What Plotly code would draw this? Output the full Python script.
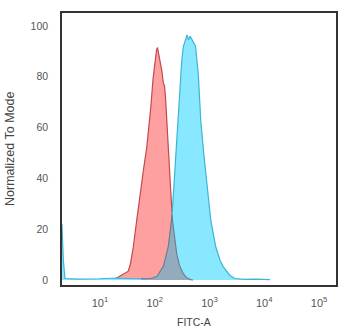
import numpy as np
import plotly.graph_objects as go

# Isotype control (red) : log10(FITC-A) and % of mode
red_log10_fitc = [1.243, 1.311, 1.365, 1.438, 1.517, 1.557, 1.608, 1.670, 1.731, 1.791,
                  1.853, 1.895, 1.932, 1.968, 2.005, 2.032, 2.050, 2.068, 2.096, 2.132,
                  2.156, 2.178, 2.196, 2.218, 2.251, 2.288, 2.324, 2.379, 2.425, 2.479,
                  2.534, 2.589, 2.662]
red_pct_mode = [0, 0.8, 1.5, 2.3, 3.5, 6.5, 13, 23.4, 33.9, 43,
                52, 60, 69, 79, 87, 90.5, 91.5, 89.5, 86.5, 82,
                77.5, 76.5, 72, 62.5, 50, 36.5, 23.4, 13, 7.5, 4.2,
                2.0, 0.8, 0]

# Antibody stained (blue)
blue_log10_fitc = [0.306, 0.33, 0.36, 0.6, 1.0, 1.3, 1.6, 1.800, 1.853, 1.913,
                   1.974, 2.036, 2.127, 2.156, 2.205, 2.247, 2.310, 2.348, 2.379, 2.406,
                   2.434, 2.452, 2.492, 2.521, 2.562, 2.589, 2.616, 2.644, 2.671, 2.704,
                   2.744, 2.795, 2.841, 2.896, 2.963, 3.024, 3.115, 3.192, 3.252, 3.314,
                   3.374, 3.466, 3.648, 3.831, 4.105]
blue_pct_mode = [22, 8, 0.6, 0.4, 0.5, 0.8, 0.5, 0.5, 0.3, 0.5,
                 0.8, 1.3, 4, 5.2, 9, 13, 23.4, 36.5, 49.5, 60,
                 68, 75, 86, 91.8, 94.5, 96.5, 94.5, 96, 95, 93.8,
                 92, 81, 62.5, 49.5, 36.5, 23.4, 13, 7.8, 5.2, 3.5,
                 1.8, 0.6, 0.3, 0.4, 0.2]

x_tick_exponents = [1, 2, 3, 4, 5]
y_tick_values = [0, 20, 40, 60, 80, 100]

red_x = [10 ** v for v in red_log10_fitc]
blue_x = [10 ** v for v in blue_log10_fitc]

# overlap region (min of both histograms)
grid = np.linspace(1.75, 2.7, 400)
ov = np.minimum(np.interp(grid, red_log10_fitc, red_pct_mode),
                np.interp(grid, blue_log10_fitc, blue_pct_mode))
ov_x = 10 ** grid

fig = go.Figure()
fig.add_trace(go.Scatter(x=red_x, y=red_pct_mode, mode="lines", fill="tozeroy",
                         fillcolor="#FFA0A0", line=dict(color="#C4484E", width=1.2),
                         hoverinfo="skip"))
fig.add_trace(go.Scatter(x=blue_x, y=blue_pct_mode, mode="lines", fill="tozeroy",
                         fillcolor="#88E8FF", line=dict(color="#3DB4D4", width=1.2),
                         hoverinfo="skip"))
fig.add_trace(go.Scatter(x=ov_x, y=ov, mode="lines", fill="tozeroy",
                         fillcolor="#93ABBD", line=dict(color="#6D7D8C", width=1.1),
                         hoverinfo="skip"))

fam = "Liberation Sans, Arial, sans-serif"
ytick_font = dict(family=fam, size=10.5, color="#555555")
xtick_font = dict(family=fam, size=11, color="#555555")

fig.update_layout(
    width=350, height=333,
    margin=dict(l=62, r=14, t=11, b=48),
    paper_bgcolor="white", plot_bgcolor="white",
    showlegend=False,
    font=dict(family=fam, size=10, color="#555555"),
    xaxis=dict(type="log", range=[0.306, 5.31],
               tickvals=[10 ** e for e in x_tick_exponents],
               ticktext=["10<sup>%d</sup>" % e for e in x_tick_exponents],
               showgrid=False, zeroline=False,
               showline=True, mirror=True, linecolor="#333333", linewidth=1.5,
               ticks="outside", ticklen=7, tickcolor="rgba(0,0,0,0)",
               tickfont=xtick_font),
    yaxis=dict(range=[-1.95, 105.1], tickvals=y_tick_values,
               showgrid=False, zeroline=False,
               showline=True, mirror=True, linecolor="#333333", linewidth=1.5,
               ticks="outside", ticklen=10, tickcolor="rgba(0,0,0,0)",
               tickfont=ytick_font),
    annotations=[
        dict(text="Normalized To Mode", xref="paper", yref="paper",
             x=(10 - 62) / 274, y=0.5, textangle=-90, showarrow=False,
             xanchor="center", yanchor="middle",
             font=dict(family=fam, size=12.5, color="#444444")),
        dict(text="FITC-A", xref="paper", yref="paper",
             x=(194 - 62) / 274, y=(285 - 322) / 274, showarrow=False,
             xanchor="center", yanchor="middle",
             font=dict(family=fam, size=10.5, color="#444444")),
    ],
)

fig.write_html("out.html", config={"displayModeBar": False},
               post_script="document.body.style.margin='0';")
